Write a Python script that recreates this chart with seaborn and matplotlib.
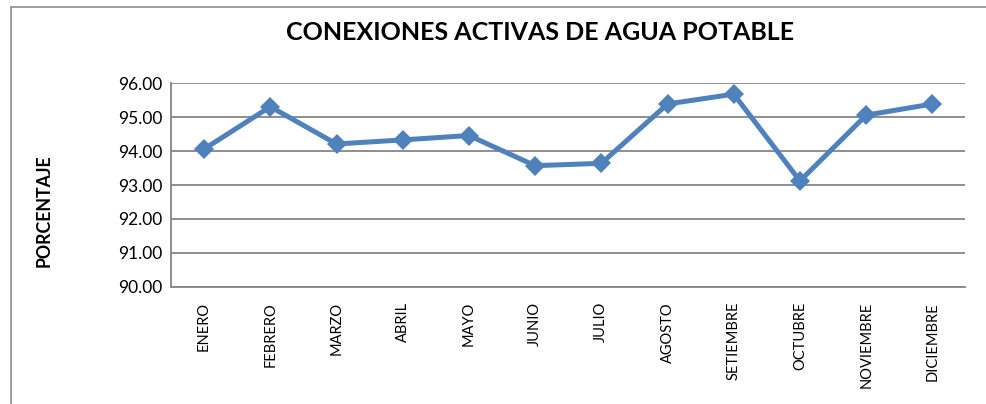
import matplotlib
matplotlib.use("Agg")
import matplotlib.pyplot as plt
import seaborn as sns
import pandas as pd
from matplotlib.lines import Line2D

months = ["ENERO", "FEBRERO", "MARZO", "ABRIL", "MAYO", "JUNIO", "JULIO",
          "AGOSTO", "SETIEMBRE", "OCTUBRE", "NOVIEMBRE", "DICIEMBRE"]
values = [94.06, 95.31, 94.21, 94.33, 94.46, 93.57, 93.64,
          95.39, 95.68, 93.12, 95.06, 95.39]
yticks = [90, 91, 92, 93, 94, 95, 96]

sns.set_theme(style="white")
plt.rcParams['font.family'] = ['Lato', 'DejaVu Sans']

df = pd.DataFrame({"mes": months, "valor": values})

fig = plt.figure(figsize=(9.87, 4.04), dpi=100)
ax = fig.add_axes([171/987, 1-286.7/404, (965.5-171)/987, (286.7-83.3)/404])

sns.lineplot(data=df, x="mes", y="valor", ax=ax, color="#4F81BD",
             linewidth=3.6, marker="D", markersize=10, markeredgewidth=0,
             sort=False)

ax.set_xlim(-0.5, len(months) - 0.5)
ax.set_ylim(90, 96)
ax.set_yticks(yticks)
ax.set_yticklabels([f"{v:.2f}" for v in yticks], fontsize=12.5, color="#000000")
ax.set_xticks(range(len(months)))
ax.set_xticklabels(months, rotation=90, fontsize=10.5, color="#000000")
ax.tick_params(axis="x", pad=11, length=0)
ax.tick_params(axis="y", pad=6, length=0)
ax.grid(axis="y", color="#868686", linewidth=1.3)
ax.set_axisbelow(True)
for s in ["top", "right"]:
    ax.spines[s].set_visible(False)
for s in ["left", "bottom"]:
    ax.spines[s].set_color("#868686")
    ax.spines[s].set_linewidth(1.3)
ax.set_xlabel("")
ax.set_ylabel("PORCENTAJE", fontsize=12.8, fontweight="bold", color="#000000")
ax.yaxis.set_label_coords((53 - 171) / 794.5, (286.7 - 211) / 203.4)

fig.text(540/987, 1-33/404, "CONEXIONES ACTIVAS DE AGUA POTABLE",
         ha="center", va="center", fontsize=18, fontweight="bold", color="#000000")

# chart border (top and left visible)
fig.add_artist(Line2D([11/987, 1.0], [1-7/404, 1-7/404], transform=fig.transFigure,
                      color="#8c8c8c", linewidth=1.2))
fig.add_artist(Line2D([11/987, 11/987], [0, 1-7/404], transform=fig.transFigure,
                      color="#8c8c8c", linewidth=1.2))

fig.savefig("out.png", dpi=100)
